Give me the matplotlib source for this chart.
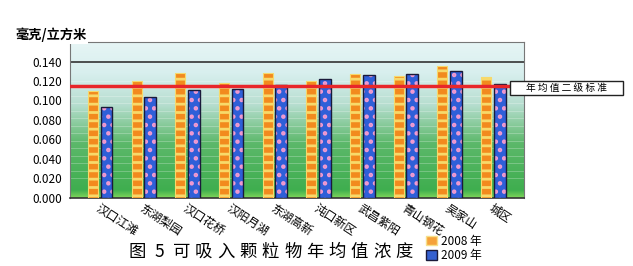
import numpy as np
import matplotlib.pyplot as plt
from matplotlib.colors import LinearSegmentedColormap
from matplotlib.patches import Patch, Rectangle

plt.rcParams['font.family'] = ['Noto Sans CJK SC', 'DejaVu Sans']
plt.rcParams['hatch.linewidth'] = 2.0

sites = ['汉口江滩', '东湖梨园', '汉口花桥', '汉阳月湖', '东湖高新',
         '沌口新区', '武昌紫阳', '青山钢花', '吴家山', '城区']
pm_2008 = [0.110, 0.120, 0.128, 0.118, 0.128, 0.120, 0.127, 0.125, 0.135, 0.124]
pm_2009 = [0.093, 0.104, 0.111, 0.112, 0.116, 0.122, 0.126, 0.127, 0.130, 0.117]
standard = 0.115
yticks = [0.000, 0.020, 0.040, 0.060, 0.080, 0.100, 0.120, 0.140]
title = '图5可吸入颗粒物年均值浓度'

W, H = 633, 266
fig = plt.figure(figsize=(W / 100, H / 100), dpi=100)
ax = fig.add_axes([0.111, 0.256, 0.717, 0.586])

# gradient backdrop: pale cyan at top, green at bottom
bg = LinearSegmentedColormap.from_list(
    'bg', [(0.0, '#7fd65a'), (0.05, '#3fae4f'), (0.35, '#5cb86a'),
           (0.6, '#b7ded0'), (0.8, '#d8efee'), (1.0, '#e6f5f5')])
grad = np.linspace(0, 1, 256).reshape(-1, 1)
ax.imshow(grad, aspect='auto', cmap=bg, origin='lower',
          extent=[0, 1, 0, 1], transform=ax.transAxes, zorder=0)
for yy in np.linspace(0.02, 0.12, 14):
    ax.axhline(yy, color='white', lw=0.5, alpha=0.35, zorder=1)

x = np.arange(len(sites))
ax.bar(x - 0.17, pm_2008, width=0.23, color='#f28a1e', edgecolor='#f7d96a',
       hatch='--', linewidth=0.8, zorder=3)
ax.bar(x + 0.14, pm_2009, width=0.27, color='#2f5fd8', edgecolor='#f29ad0',
       hatch='..', linewidth=0, zorder=3)
ax.bar(x + 0.14, pm_2009, width=0.27, fill=False, edgecolor='#1a1a3a',
       linewidth=1.0, zorder=4)

ax.axhline(0.140, color='#333333', lw=1.2, zorder=2)
ax.axhline(standard, color='#e8262a', lw=2.5, zorder=5)

ax.set_xlim(-0.69, 9.7)
ax.set_ylim(0, 0.160)
ax.set_yticks(yticks)
ax.set_yticklabels([f'{v:.3f}' for v in yticks], fontsize=8.5)
ax.set_xticks(x)
ax.set_xticklabels(sites, rotation=-33, ha='left', va='top',
                   rotation_mode='anchor', fontsize=8.5)
ax.tick_params(axis='x', length=0, pad=3)
ax.tick_params(axis='y', length=0, pad=6)
for s in ['top', 'right', 'left']:
    ax.spines[s].set_color('#777777')
ax.spines['bottom'].set_color('#333333')
ax.spines['bottom'].set_linewidth(1.2)

fig.text(0.024, 0.868, '毫克/立方米', fontsize=9.5, fontweight='bold',
         ha='left', va='center',
         bbox=dict(facecolor='white', edgecolor='none', pad=1))

# label box for the standard line
fig.add_artist(Rectangle((510 / W, 1 - 95 / H), 113 / W, 14 / H,
                         transform=fig.transFigure, facecolor='white',
                         edgecolor='#222222', lw=1))
fig.text(566 / W, 1 - 88 / H, ' '.join('年均值二级标准'), fontsize=7,
         ha='center', va='center')

# widely spaced caption, one glyph at a time
x0, x1 = 137, 404
for i, ch in enumerate(title):
    xc = x0 + (x1 - x0) * i / (len(title) - 1)
    fig.text(xc / W, 1 - 252 / H, ch, fontsize=12.5, ha='center', va='center')

handles = [Patch(facecolor='#f5a23a', edgecolor='#f7e08a'),
           Patch(facecolor='#3560d0', edgecolor='#1a1a3a')]
fig.legend(handles, ['2008 年', '2009 年'], loc='lower left',
           bbox_to_anchor=(0.66, -0.015), frameon=False, fontsize=8.5,
           handlelength=0.9, handleheight=0.9, handletextpad=0.4,
           labelspacing=0.1, borderpad=0.2)

fig.savefig('out.png', dpi=100)
